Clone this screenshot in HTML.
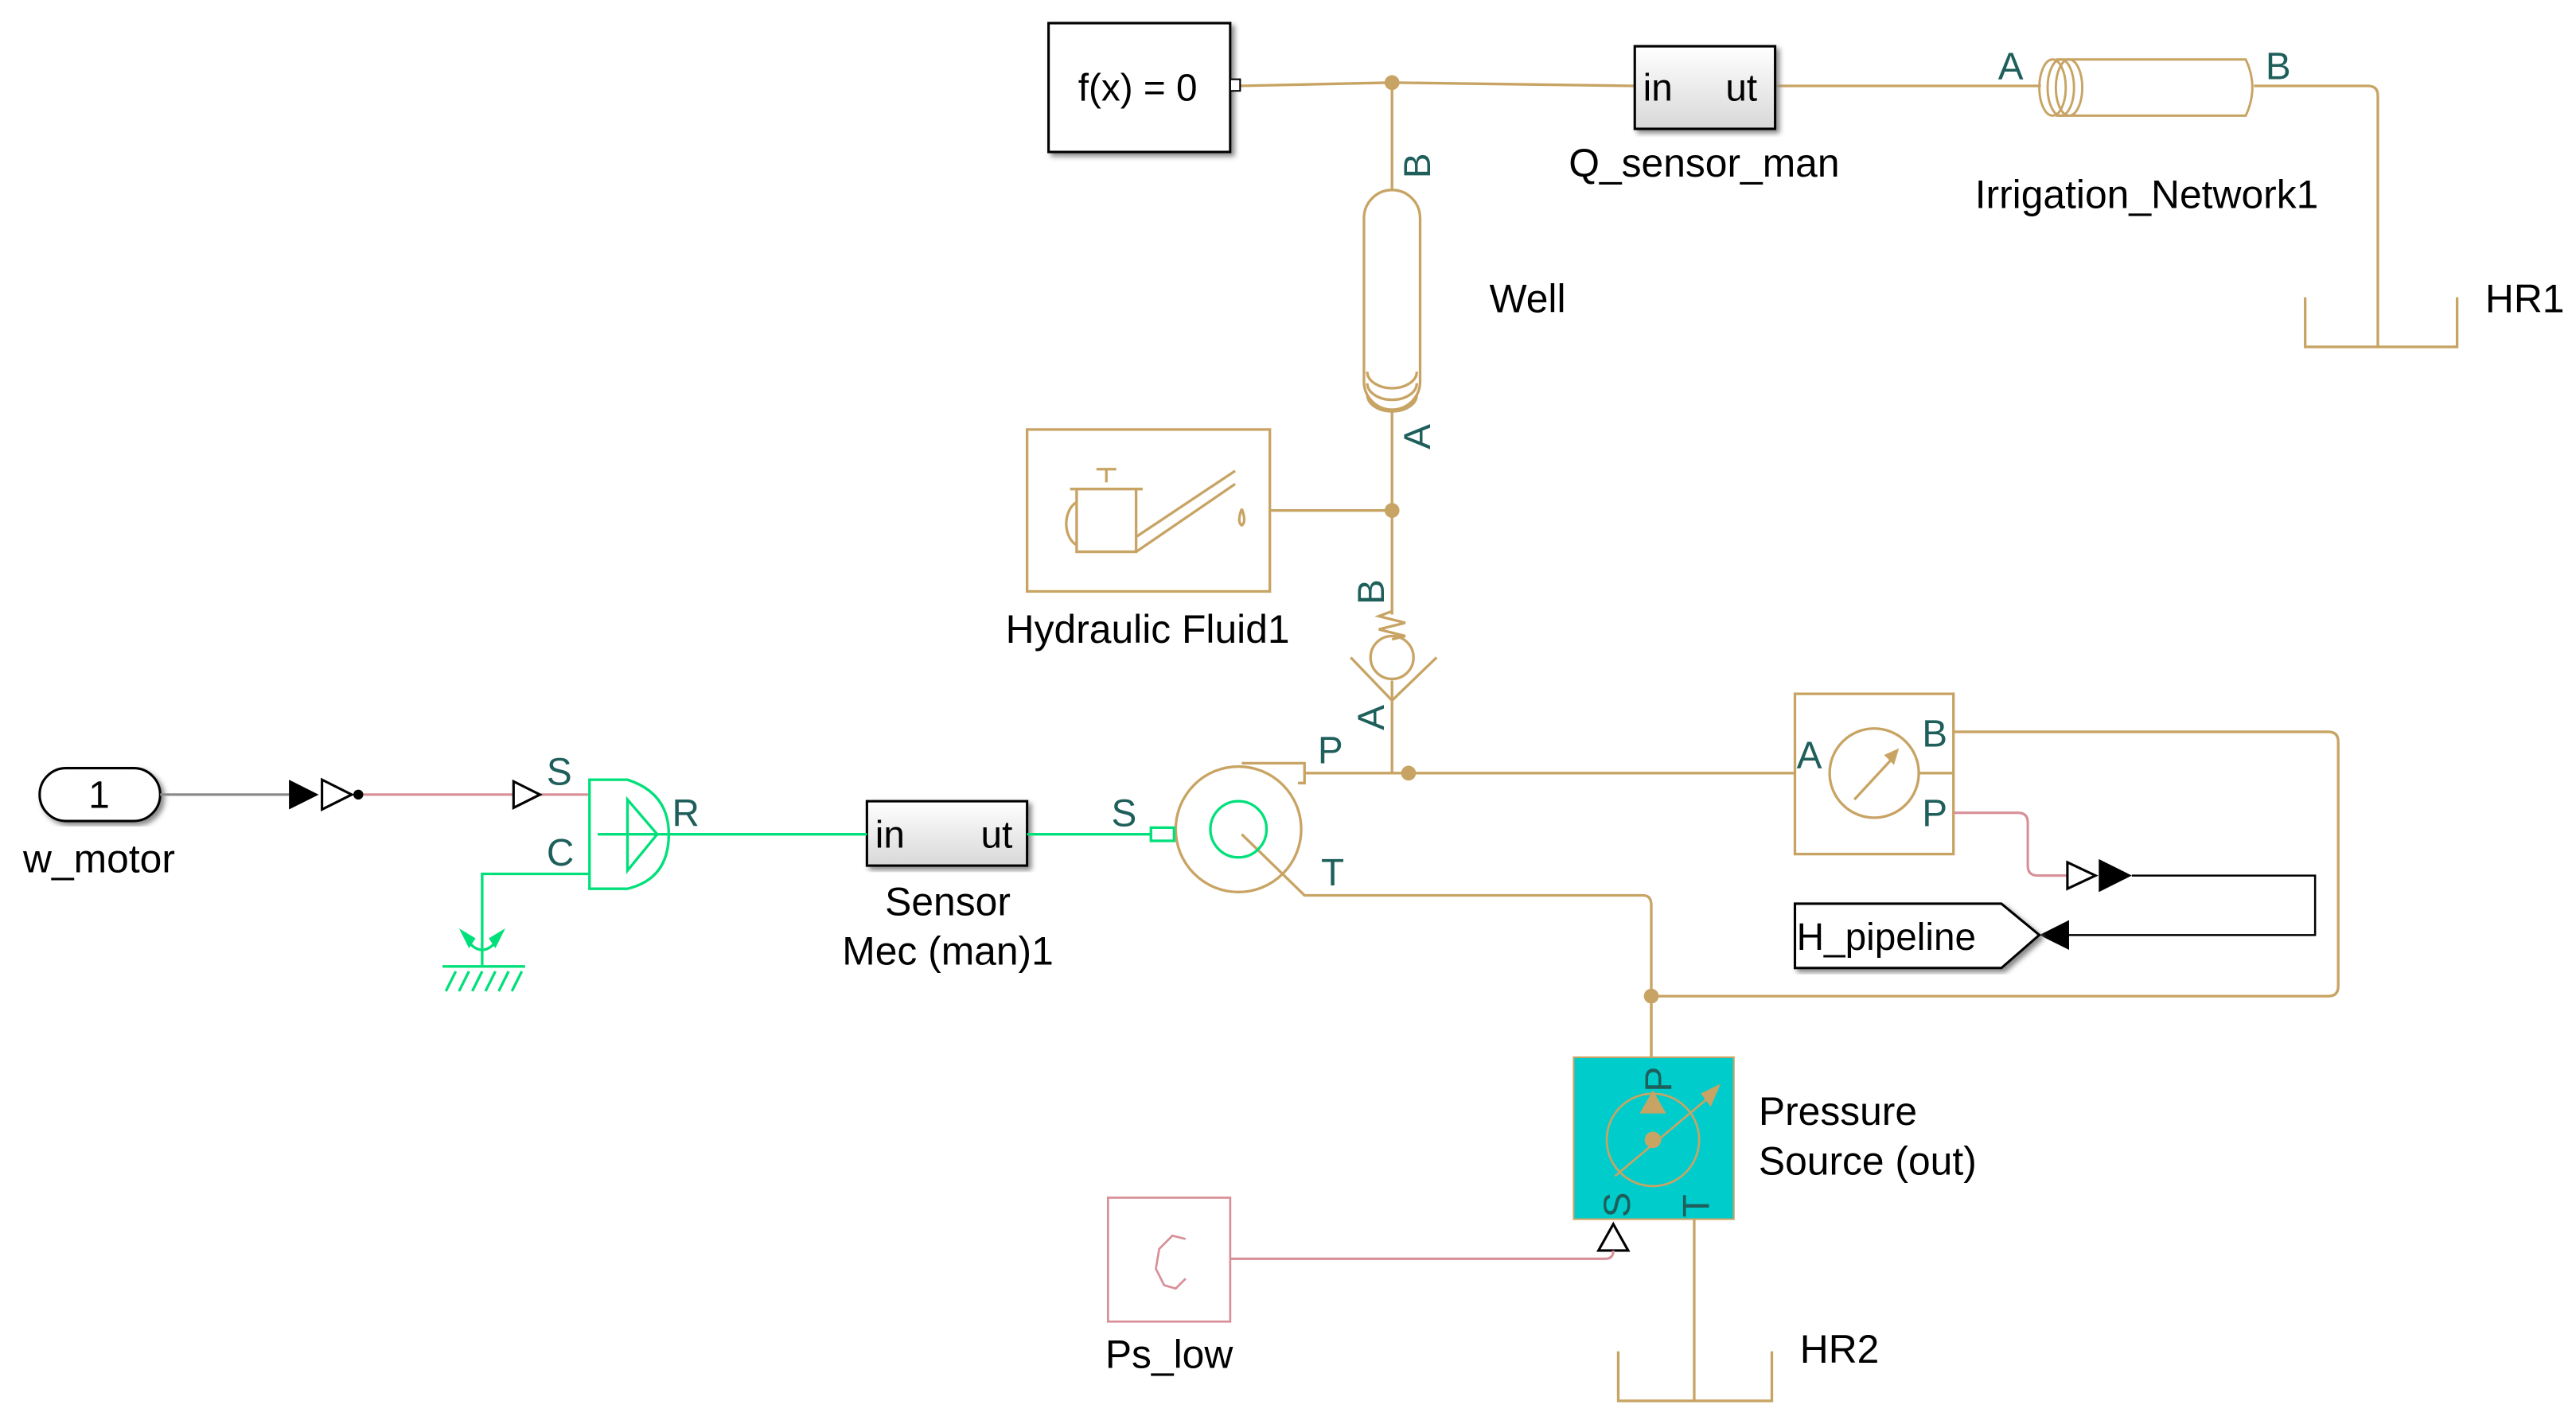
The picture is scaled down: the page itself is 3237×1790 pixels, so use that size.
<!DOCTYPE html>
<html><head><meta charset="utf-8"><style>html,body{margin:0;padding:0;background:#fff}svg{display:block}</style></head><body>
<svg width="3237" height="1790" viewBox="0 0 1560 862" preserveAspectRatio="none" xmlns="http://www.w3.org/2000/svg" font-family="Liberation Sans, sans-serif">
<defs><filter id="sh"><feDropShadow dx="2" dy="2" stdDeviation="1.5" flood-color="#888"/></filter>
<linearGradient id="g" x1="0" y1="0" x2="0" y2="1"><stop offset="0" stop-color="#fff"/><stop offset="1" stop-color="#d8d8d8"/></linearGradient></defs>
<g fill="none" stroke="#C8A464" stroke-width="1.6">
<path d="M750 52 L843 50 L990 52"/>
<path d="M1075 52 L1236 52"/>
<path d="M1365 52 L1434 52 Q1440 52 1440 58 L1440 210"/>
<path d="M1396 180 L1396 210 L1488 210 L1488 180"/>
<path d="M843 50 L843 115"/>
<rect x="826" y="115" width="34" height="133" rx="17"/>
<path d="M828 225 a15 10 0 0 0 30 0 M828 232 a15 10 0 0 0 30 0 M828 239 a15 10 0 0 0 30 0"/>
<path d="M843 248 L843 372 M843 412 L843 468"/>
<path d="M769 309 L843 309"/>
<rect x="622" y="260" width="147" height="98"/>
<path d="M652 296 L688 296 L688 334 L652 334 Z M648 296 L692 296 M670 284 L670 292 M664 284 L676 284 M652 304 a10 14 0 0 0 0 26 M688 325 L748 285 M688 334 L748 293 M752 308 q-3 8 0 10 q3-2 0-10"/>
<path d="M843 370 l-8 3 l16 4 l-16 4 l16 4 l-8 2"/>
<circle cx="843" cy="398" r="13"/>
<path d="M818 398 L843 424 L870 398"/>
<circle cx="750" cy="502" r="38"/>
<path d="M752 462 L790 462 L790 474 L786 474"/>
<path d="M790 468 L1087 468"/>
<path d="M752 505 L790 542 L995 542 Q1000 542 1000 548 L1000 640"/>
<path d="M1000 603 L1410 603 Q1416 603 1416 597 L1416 449 Q1416 443 1410 443 L1183 443"/>
<rect x="1087" y="420" width="96" height="97"/>
<circle cx="1135" cy="468" r="27"/>
<path d="M1162 468 L1183 468 M1123 484 L1147 458"/>
<path d="M1026 738 L1026 848 M980 818 L980 848 L1073 848 L1073 818"/>
</g>
<g fill="#C8A464">
<circle cx="843" cy="50" r="4.5"/><circle cx="843" cy="309" r="4.5"/><circle cx="853" cy="468" r="4.5"/><circle cx="1000" cy="603" r="4.5"/>
<path d="M1150 453 L1141 457 L1147 463 Z"/>
</g>
<g fill="none" stroke="#C8A464" stroke-width="1.4">
<path d="M1245 36 L1360 36 Q1368 53 1360 70 L1245 70"/>
<ellipse cx="1243" cy="53" rx="8" ry="17"/><ellipse cx="1248" cy="53" rx="8" ry="17"/><ellipse cx="1253" cy="53" rx="8" ry="17"/>
</g>
<rect x="635" y="14" width="110" height="78" fill="#fff" stroke="#000" stroke-width="1.5" filter="url(#sh)"/>
<text x="689" y="61" font-size="23" text-anchor="middle">f(x) = 0</text>
<rect x="745" y="48" width="6" height="7" fill="#fff" stroke="#000"/>
<rect x="990" y="28" width="85" height="50" fill="url(#g)" stroke="#000" stroke-width="1.5" filter="url(#sh)"/>
<text x="995" y="61" font-size="23">in</text><text x="1045" y="61" font-size="23">ut</text>
<rect x="525" y="485" width="97" height="39" fill="url(#g)" stroke="#000" stroke-width="1.5" filter="url(#sh)"/>
<text x="530" y="513" font-size="23">in</text><text x="594" y="513" font-size="23">ut</text>
<rect x="24" y="465" width="73" height="32" rx="16" fill="#fff" stroke="#000" stroke-width="1.5" filter="url(#sh)"/>
<text x="60" y="489" font-size="23" text-anchor="middle">1</text>
<path d="M97 481 L175 481" stroke="#888" stroke-width="1.5"/>
<path d="M175 472 L193 481 L175 490 Z" fill="#000"/>
<path d="M195 472 L213 481 L195 490 Z" fill="#fff" stroke="#000" stroke-width="1.5"/>
<circle cx="217" cy="481" r="3" fill="#000"/>
<path d="M220 481 L357 481" stroke="#D89098" stroke-width="1.5"/>
<path d="M311 473 L327 481 L311 489 Z" fill="#fff" stroke="#000" stroke-width="1.5"/>
<g fill="none" stroke="#00E07A" stroke-width="1.6">
<path d="M357 472 L380 472 Q405 480 405 505 Q405 532 380 538 L357 538 Z"/>
<path d="M380 484 L398 505 L380 527 Z M362 505 L525 505"/>
<path d="M622 505 L697 505"/><rect x="697" y="501" width="14" height="8"/>
<circle cx="750" cy="502" r="17"/>
<path d="M357 529 L292 529 L292 585 M268 585 L318 585 M270 600 L276 588 M278 600 L284 588 M286 600 L292 588 M294 600 L300 588 M302 600 L308 588 M310 600 L316 588"/>
<path d="M282 568 Q292 582 302 568"/>
</g>
<path d="M278 562 L284 574 L288 568 Z M306 562 L300 574 L296 568 Z" fill="#00E07A"/>
<path d="M1183 492 L1222 492 Q1228 492 1228 498 L1228 524 Q1228 530 1234 530 L1252 530" fill="none" stroke="#D89098" stroke-width="1.5"/>
<path d="M1252 522 L1269 530 L1252 538 Z" fill="#fff" stroke="#000" stroke-width="1.5"/>
<path d="M1271 520 L1291 530 L1271 540 Z" fill="#000"/>
<path d="M1291 530 L1402 530 L1402 566 L1252 566" fill="none" stroke="#000" stroke-width="1.2"/>
<path d="M1235 566 L1253 557 L1253 575 Z" fill="#000"/>
<path d="M1087 547 L1212 547 L1235 566 L1212 586 L1087 586 Z" fill="#fff" stroke="#000" stroke-width="1.5" filter="url(#sh)"/>
<text x="1088" y="575" font-size="23">H_pipeline</text>
<rect x="953" y="640" width="97" height="98" fill="#00CCCC" stroke="#C8A464" stroke-width="1"/>
<path d="M1000 603 L1000 640" stroke="#C8A464" stroke-width="1.6"/>
<circle cx="1001" cy="690" r="28" fill="none" stroke="#C8A464" stroke-width="1.3"/>
<path d="M978 712 L1040 660" stroke="#C8A464" stroke-width="1.3"/>
<path d="M1042 656 L1030 662 L1036 670 Z M1001 660 L993 674 L1009 674 Z" fill="#C8A464"/>
<circle cx="1001" cy="690" r="5" fill="#C8A464"/>
<path d="M968 757 L977 741 L986 757 Z" fill="#fff" stroke="#000" stroke-width="1.5"/>
<path d="M745 762 L972 762 Q977 762 977 757" fill="none" stroke="#D89098" stroke-width="1.5"/>
<rect x="671" y="725" width="74" height="75" fill="#fff" stroke="#D89098" stroke-width="1.3"/>
<path d="M718 750 L710 748 L702 756 L700 768 L705 778 L712 780 L718 774" fill="none" stroke="#D89098" stroke-width="1.3"/>
<g fill="#1F5F5B" font-size="23">
<text x="1210" y="48">A</text><text x="1372" y="48">B</text>
<text transform="translate(866 108) rotate(-90)">B</text>
<text transform="translate(866 272) rotate(-90)">A</text>
<text transform="translate(838 366) rotate(-90)">B</text>
<text transform="translate(838 442) rotate(-90)">A</text>
<text x="798" y="462">P</text><text x="800" y="536">T</text>
<text x="673" y="500">S</text>
<text x="331" y="475">S</text><text x="407" y="500">R</text><text x="331" y="524">C</text>
<text x="1088" y="465">A</text><text x="1164" y="452">B</text><text x="1164" y="500">P</text>
<text transform="translate(1012 661) rotate(-90)">P</text>
<text transform="translate(987 737) rotate(-90)">S</text>
<text transform="translate(1035 737) rotate(-90)">T</text>
</g>
<g fill="#000" font-size="24">
<text x="1032" y="107" text-anchor="middle">Q_sensor_man</text>
<text x="1300" y="126" text-anchor="middle">Irrigation_Network1</text>
<text x="1505" y="189">HR1</text>
<text x="902" y="189">Well</text>
<text x="695" y="389" text-anchor="middle">Hydraulic Fluid1</text>
<text x="60" y="528" text-anchor="middle">w_motor</text>
<text x="574" y="554" text-anchor="middle">Sensor</text>
<text x="574" y="584" text-anchor="middle">Mec (man)1</text>
<text x="1065" y="681">Pressure</text>
<text x="1065" y="711">Source (out)</text>
<text x="708" y="828" text-anchor="middle">Ps_low</text>
<text x="1090" y="825">HR2</text>
</g>
</svg>
</body></html>
